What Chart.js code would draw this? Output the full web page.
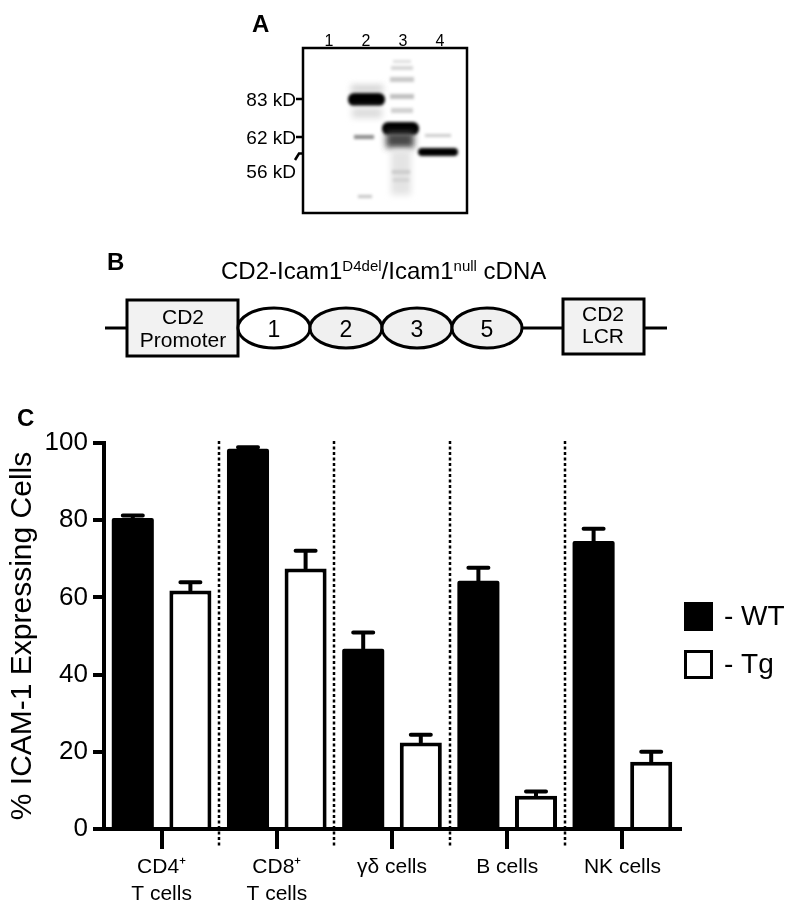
<!DOCTYPE html>
<html>
<head>
<meta charset="utf-8">
<script src="https://cdn.jsdelivr.net/npm/chart.js@4.4.1/dist/chart.umd.min.js"></script>
<style>
  html, body { margin: 0; padding: 0; background: #fff; }
  body { width: 800px; height: 915px; position: relative; overflow: hidden;
         font-family: "Liberation Sans", Arial, sans-serif; }
  #wrap { position: absolute; left: 0; top: 380px; width: 800px; height: 535px; }
  #overlay { position: absolute; left: 0; top: 0; pointer-events: none; }
</style>
</head>
<body>
<div id="wrap"><canvas id="chart" width="800" height="535"></canvas></div>

<svg id="overlay" width="800" height="915" xmlns="http://www.w3.org/2000/svg"
     font-family="Liberation Sans, Arial, sans-serif">
  <defs>
    <filter id="soft" x="-50%" y="-100%" width="200%" height="300%"><feGaussianBlur stdDeviation="1.4"/></filter>
    <filter id="haze" x="-50%" y="-100%" width="200%" height="300%"><feGaussianBlur stdDeviation="3"/></filter>
    <clipPath id="blot"><rect x="303" y="48" width="164" height="165"/></clipPath>
  </defs>

  <!-- panel A -->
  <text x="252" y="32" font-size="24" font-weight="bold">A</text>
  <g font-size="16" text-anchor="middle">
    <text x="329" y="46">1</text>
    <text x="366" y="46">2</text>
    <text x="403" y="46">3</text>
    <text x="440" y="46">4</text>
  </g>
  <g font-size="19" text-anchor="end">
    <text x="296" y="106">83 kD</text>
    <text x="296" y="144">62 kD</text>
    <text x="296" y="178">56 kD</text>
  </g>
  <g stroke="#000" stroke-width="2.5" fill="none">
    <line x1="296" y1="99" x2="305" y2="99"/>
    <line x1="296" y1="137" x2="305" y2="137"/>
    <polyline points="295,160 299,153.5 306,153.5"/>
  </g>
  <g clip-path="url(#blot)">
    <rect x="303" y="48" width="164" height="165" fill="#fff"/>
    <!-- lane 2 -->
    <rect x="351" y="85" width="32" height="7" fill="#d0d0d0" filter="url(#haze)"/>
    <rect x="348" y="93" width="37" height="13" rx="6" fill="#000" filter="url(#soft)"/>
    <rect x="352" y="108" width="30" height="10" fill="#dcdcdc" filter="url(#haze)"/>
    <rect x="354" y="135" width="20" height="4" fill="#8a8a8a" filter="url(#soft)"/>
    <rect x="358" y="195" width="14" height="3" fill="#c4c4c4" filter="url(#soft)"/>
    <!-- lane 3 -->
    <rect x="393" y="60" width="18" height="3" fill="#dedede" filter="url(#soft)"/>
    <rect x="391" y="66" width="22" height="4" fill="#d6d6d6" filter="url(#soft)"/>
    <rect x="390" y="77" width="24" height="5" fill="#c8c8c8" filter="url(#soft)"/>
    <rect x="390" y="94" width="24" height="5" fill="#c0c0c0" filter="url(#soft)"/>
    <rect x="391" y="108" width="22" height="5" fill="#d0d0d0" filter="url(#soft)"/>
    <rect x="382" y="122" width="37" height="13" rx="6" fill="#000" filter="url(#soft)"/>
    <rect x="386" y="132" width="28" height="16" fill="#4a4a4a" filter="url(#haze)"/>
    <rect x="391" y="150" width="20" height="45" fill="#e4e4e4" filter="url(#haze)"/>
    <rect x="392" y="170" width="18" height="4" fill="#cccccc" filter="url(#soft)"/>
    <rect x="393" y="178" width="16" height="4" fill="#d4d4d4" filter="url(#soft)"/>
    <!-- lane 4 -->
    <rect x="425" y="134" width="26" height="3" fill="#cacaca" filter="url(#soft)"/>
    <rect x="418" y="148" width="40" height="8" rx="4" fill="#000" filter="url(#soft)"/>
  </g>
  <rect x="303" y="48" width="164" height="165" fill="none" stroke="#000" stroke-width="2.5"/>

  <!-- panel B -->
  <text x="107" y="270" font-size="24" font-weight="bold">B</text>
  <text x="221" y="279" font-size="24">CD2-Icam1<tspan font-size="15" dy="-8">D4del</tspan><tspan dy="8">/Icam1</tspan><tspan font-size="15" dy="-8">null</tspan><tspan dy="8"> cDNA</tspan></text>
  <g stroke="#000" stroke-width="3">
    <line x1="105" y1="328" x2="127" y2="328"/>
    <line x1="522" y1="328" x2="563" y2="328"/>
    <line x1="644" y1="328" x2="667" y2="328"/>
    <rect x="127" y="300" width="111" height="56" fill="#f2f2f2"/>
    <rect x="563" y="299" width="81" height="55" fill="#f2f2f2"/>
    <ellipse cx="274" cy="328" rx="36" ry="20" fill="#fff"/>
    <ellipse cx="346" cy="328" rx="36" ry="20" fill="#f0f0f0"/>
    <ellipse cx="417" cy="328" rx="35" ry="20" fill="#f0f0f0"/>
    <ellipse cx="487" cy="328" rx="35" ry="20" fill="#f0f0f0"/>
  </g>
  <g font-size="21" text-anchor="middle">
    <text x="183" y="324">CD2</text>
    <text x="183" y="347">Promoter</text>
    <text x="603" y="321">CD2</text>
    <text x="603" y="343">LCR</text>
  </g>
  <g font-size="23" text-anchor="middle">
    <text x="274" y="337">1</text>
    <text x="346" y="337">2</text>
    <text x="417" y="337">3</text>
    <text x="487" y="337">5</text>
  </g>

  <!-- panel C label -->
  <text x="17" y="426" font-size="24" font-weight="bold">C</text>
</svg>

<script>
// panel C data
const categories = [["CD4\u207A", "T cells"], ["CD8\u207A", "T cells"], "\u03B3\u03B4 cells", "B cells", "NK cells"];
const wtValues = [80.6, 98.5, 46.7, 64.3, 74.6];
const wtErrors = [0.6, 0.4, 4.2, 3.4, 3.2];
const tgValues = [61.8, 67.5, 22.4, 8.6, 17.4];
const tgErrors = [2.1, 4.6, 2.0, 1.1, 2.6];
const yMin = 0, yMax = 100, yStep = 20;

const FONT = "'Liberation Sans', Arial, sans-serif";

// dotted separators between cell types
const dividers = {
  id: "dividers",
  afterDraw(chart) {
    const ctx = chart.ctx, x = chart.scales.x, area = chart.chartArea;
    ctx.save();
    ctx.strokeStyle = "#000";
    ctx.lineWidth = 2.5;
    ctx.setLineDash([3, 2.5]);
    for (let i = 0; i < categories.length - 1; i++) {
      const px = Math.round((x.getPixelForTick(i) + x.getPixelForTick(i + 1)) / 2);
      ctx.beginPath();
      ctx.moveTo(px, area.top - 2);
      ctx.lineTo(px, area.bottom + 18);
      ctx.stroke();
    }
    ctx.restore();
  }
};

// upper error bars (mean + SEM)
const errorBars = {
  id: "errorBars",
  afterDatasetsDraw(chart) {
    const ctx = chart.ctx, y = chart.scales.y;
    ctx.save();
    ctx.strokeStyle = "#000";
    ctx.lineWidth = 4;
    ctx.lineCap = "round";
    chart.data.datasets.forEach((ds, d) => {
      chart.getDatasetMeta(d).data.forEach((bar, i) => {
        const yc = y.getPixelForValue(ds.data[i] + ds.errors[i]);
        ctx.beginPath();
        ctx.moveTo(bar.x, bar.y);
        ctx.lineTo(bar.x, yc);
        ctx.moveTo(bar.x - 10, yc);
        ctx.lineTo(bar.x + 10, yc);
        ctx.stroke();
      });
    });
    ctx.restore();
  }
};

// legend on the right
const sideLegend = {
  id: "sideLegend",
  afterDraw(chart) {
    const ctx = chart.ctx, area = chart.chartArea;
    const x0 = area.right + 4;
    const rows = [area.top + 159, area.top + 207];
    ctx.save();
    ctx.font = "28px " + FONT;
    ctx.textBaseline = "middle";
    chart.data.datasets.forEach((ds, d) => {
      const top = rows[d];
      if (d === 0) {
        ctx.fillStyle = ds.backgroundColor;
        ctx.fillRect(x0, top, 29, 29);
      } else {
        ctx.fillStyle = "#fff";
        ctx.fillRect(x0, top, 29, 29);
        ctx.strokeStyle = "#000";
        ctx.lineWidth = 3;
        ctx.strokeRect(x0 + 1.5, top + 1.5, 26, 26);
      }
      ctx.fillStyle = "#000";
      ctx.fillText("- " + ds.label, x0 + 40, top + 15);
    });
    ctx.restore();
  }
};

new Chart(document.getElementById("chart"), {
  type: "bar",
  data: {
    labels: categories,
    datasets: [
      { label: "WT", data: wtValues, errors: wtErrors, backgroundColor: "#000",
        borderWidth: 0, borderRadius: 2, borderSkipped: "bottom" },
      { label: "Tg", data: tgValues, errors: tgErrors, backgroundColor: "#fff",
        borderColor: "#000", borderWidth: 4, borderSkipped: "bottom" }
    ]
  },
  options: {
    responsive: false,
    animation: false,
    events: [],
    layout: { padding: { top: 63, right: 120, left: 0, bottom: 0 } },
    datasets: { bar: { categoryPercentage: 1.0, barPercentage: 0.73 } },
    plugins: { legend: { display: false }, tooltip: { enabled: false } },
    scales: {
      x: {
        offset: true,
        grid: { display: true, offset: false, drawOnChartArea: false, drawTicks: true,
                tickLength: 20, lineWidth: 4, color: "#000", tickColor: "#000" },
        border: { display: true, color: "#000", width: 4 },
        ticks: { color: "#000", autoSkip: false, maxRotation: 0, padding: 5,
                 font: { family: FONT, size: 21, lineHeight: 1.286 } },
        afterFit(scale) { scale.height = 86; }
      },
      y: {
        min: yMin, max: yMax,
        grid: { display: true, drawOnChartArea: false, drawTicks: true,
                tickLength: 11, lineWidth: 4, color: "#000", tickColor: "#000" },
        border: { display: true, color: "#000", width: 4 },
        ticks: { stepSize: yStep, color: "#000", padding: 5,
                 font: { family: FONT, size: 26 } },
        title: { display: true, text: "% ICAM-1 Expressing Cells", color: "#000",
                 padding: { top: 5, bottom: 5 },
                 font: { family: FONT, size: 30, lineHeight: 1.2 } },
        afterFit(scale) { scale.width = 104; }
      }
    }
  },
  plugins: [dividers, errorBars, sideLegend]
});
</script>
</body>
</html>
